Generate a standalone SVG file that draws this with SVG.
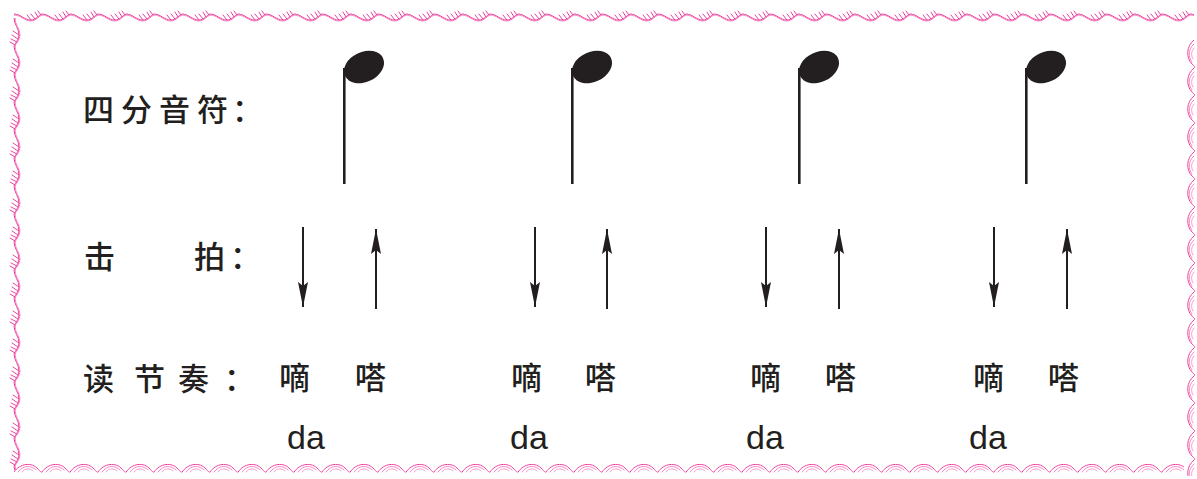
<svg xmlns="http://www.w3.org/2000/svg" width="1197" height="479" viewBox="0 0 1197 479">
<defs>
<style>
.lbl{font-family:"Noto Sans CJK SC","Noto Sans",sans-serif;font-size:31px;font-weight:500;fill:#231f20;}
.syl{font-family:"Noto Sans CJK SC","Noto Sans",sans-serif;font-size:31px;font-weight:500;fill:#231f20;}
.da{font-family:"Liberation Sans",Arial,sans-serif;font-size:34px;fill:#231f20;}
.stem{stroke:#231f20;stroke-width:2.6;fill:none;}
.arr{stroke:#231f20;stroke-width:2;fill:none;}
.head{fill:#231f20;}
.b{stroke:#ec3f9c;stroke-width:1;fill:none;stroke-linecap:round;}
</style>
<pattern id="pTop" x="14" y="9" width="28" height="14" patternUnits="userSpaceOnUse">
<path class="b" d="M0,5 C7,5 10,11 17,11 C22,11 25,6 28,5"/>
<path class="b" d="M0,6 C7,6 10,12 17,12 C22,12 25,7 28,6" opacity="0.6"/>
<path class="b" d="M17,11 L13,6 M21,10 L17,5 M24,8 L21,3 M27,6 L24,2"/>
</pattern>
<pattern id="pLeft" x="8" y="18" width="14" height="28" patternUnits="userSpaceOnUse">
<path class="b" d="M6,0 C6,7 11,10 11,17 C11,22 7,25 6,28"/>
<path class="b" d="M7,0 C7,7 12,10 12,17 C12,22 8,25 7,28" opacity="0.6"/>
<path class="b" d="M11,17 L5,13 M10,21 L4,17 M9,24 L3,21 M7,27 L2,24"/>
</pattern>
<pattern id="pBot" x="14" y="460" width="28" height="16" patternUnits="userSpaceOnUse">
<path class="b" d="M0,12 C6,3 18,2 24,9 C26,11 27,13 28,12"/>
<path class="b" d="M4,12 C9,5 17,5 22,10" opacity="0.6"/>
<path class="b" d="M8,12 C11,8 16,8 19,11" opacity="0.5"/>
</pattern>
<pattern id="pRight" x="1184" y="40" width="14" height="28" patternUnits="userSpaceOnUse">
<path class="b" d="M10,0 C2,6 2,18 8,24 C10,26 12,27 10,28"/>
<path class="b" d="M10,4 C4,9 4,17 8,22" opacity="0.6"/>
<path class="b" d="M10,8 C7,11 7,16 9,19" opacity="0.5"/>
</pattern>
<marker id="ah" viewBox="0 0 25 10" refX="25" refY="5" markerWidth="25" markerHeight="10" markerUnits="userSpaceOnUse" orient="auto">
<path d="M0,0 L25,5 L0,10 L4,5 Z" fill="#231f20"/>
</marker>
</defs>
<rect width="1197" height="479" fill="#ffffff"/>
<g id="border">
<rect x="14" y="9" width="1180" height="14" fill="url(#pTop)"/>
<rect x="8" y="18" width="14" height="452" fill="url(#pLeft)"/>
<rect x="14" y="460" width="1170" height="16" fill="url(#pBot)"/>
<rect x="1184" y="40" width="13" height="436" fill="url(#pRight)"/>
</g>
<g id="labels">
<text class="lbl" x="83 121 159 197 232" y="121">四分音符：</text>
<text class="lbl" x="84 194 230" y="268">击拍：</text>
<text class="lbl" x="83 134 178 224" y="390">读节奏：</text>
</g>
<g id="note1"><ellipse class="head" cx="364" cy="67" rx="21" ry="15" transform="rotate(-25 364 67)"/><line class="stem" x1="344.3" y1="68" x2="344.3" y2="184"/></g>
<g id="note2"><ellipse class="head" cx="592" cy="67" rx="21" ry="15" transform="rotate(-25 592 67)"/><line class="stem" x1="572.3" y1="68" x2="572.3" y2="184"/></g>
<g id="note3"><ellipse class="head" cx="819" cy="67" rx="21" ry="15" transform="rotate(-25 819 67)"/><line class="stem" x1="799.3" y1="68" x2="799.3" y2="184"/></g>
<g id="note4"><ellipse class="head" cx="1046" cy="67" rx="21" ry="15" transform="rotate(-25 1046 67)"/><line class="stem" x1="1026.3" y1="68" x2="1026.3" y2="184"/></g>
<g id="connectors">
<line class="arr" x1="303" y1="227" x2="303" y2="307" marker-end="url(#ah)"/>
<line class="arr" x1="376" y1="309" x2="376" y2="229" marker-end="url(#ah)"/>
<line class="arr" x1="535" y1="227" x2="535" y2="307" marker-end="url(#ah)"/>
<line class="arr" x1="607" y1="309" x2="607" y2="229" marker-end="url(#ah)"/>
<line class="arr" x1="766" y1="227" x2="766" y2="307" marker-end="url(#ah)"/>
<line class="arr" x1="839" y1="309" x2="839" y2="229" marker-end="url(#ah)"/>
<line class="arr" x1="994" y1="227" x2="994" y2="307" marker-end="url(#ah)"/>
<line class="arr" x1="1067" y1="309" x2="1067" y2="229" marker-end="url(#ah)"/>
</g>
<g id="beat1"><text class="syl" x="279" y="389">嘀</text><text class="syl" x="355" y="389">嗒</text><text class="da" x="287" y="449">da</text></g>
<g id="beat2"><text class="syl" x="511" y="389">嘀</text><text class="syl" x="585" y="389">嗒</text><text class="da" x="510" y="449">da</text></g>
<g id="beat3"><text class="syl" x="750" y="389">嘀</text><text class="syl" x="825" y="389">嗒</text><text class="da" x="746" y="449">da</text></g>
<g id="beat4"><text class="syl" x="973" y="389">嘀</text><text class="syl" x="1048" y="389">嗒</text><text class="da" x="969" y="449">da</text></g>
</svg>
